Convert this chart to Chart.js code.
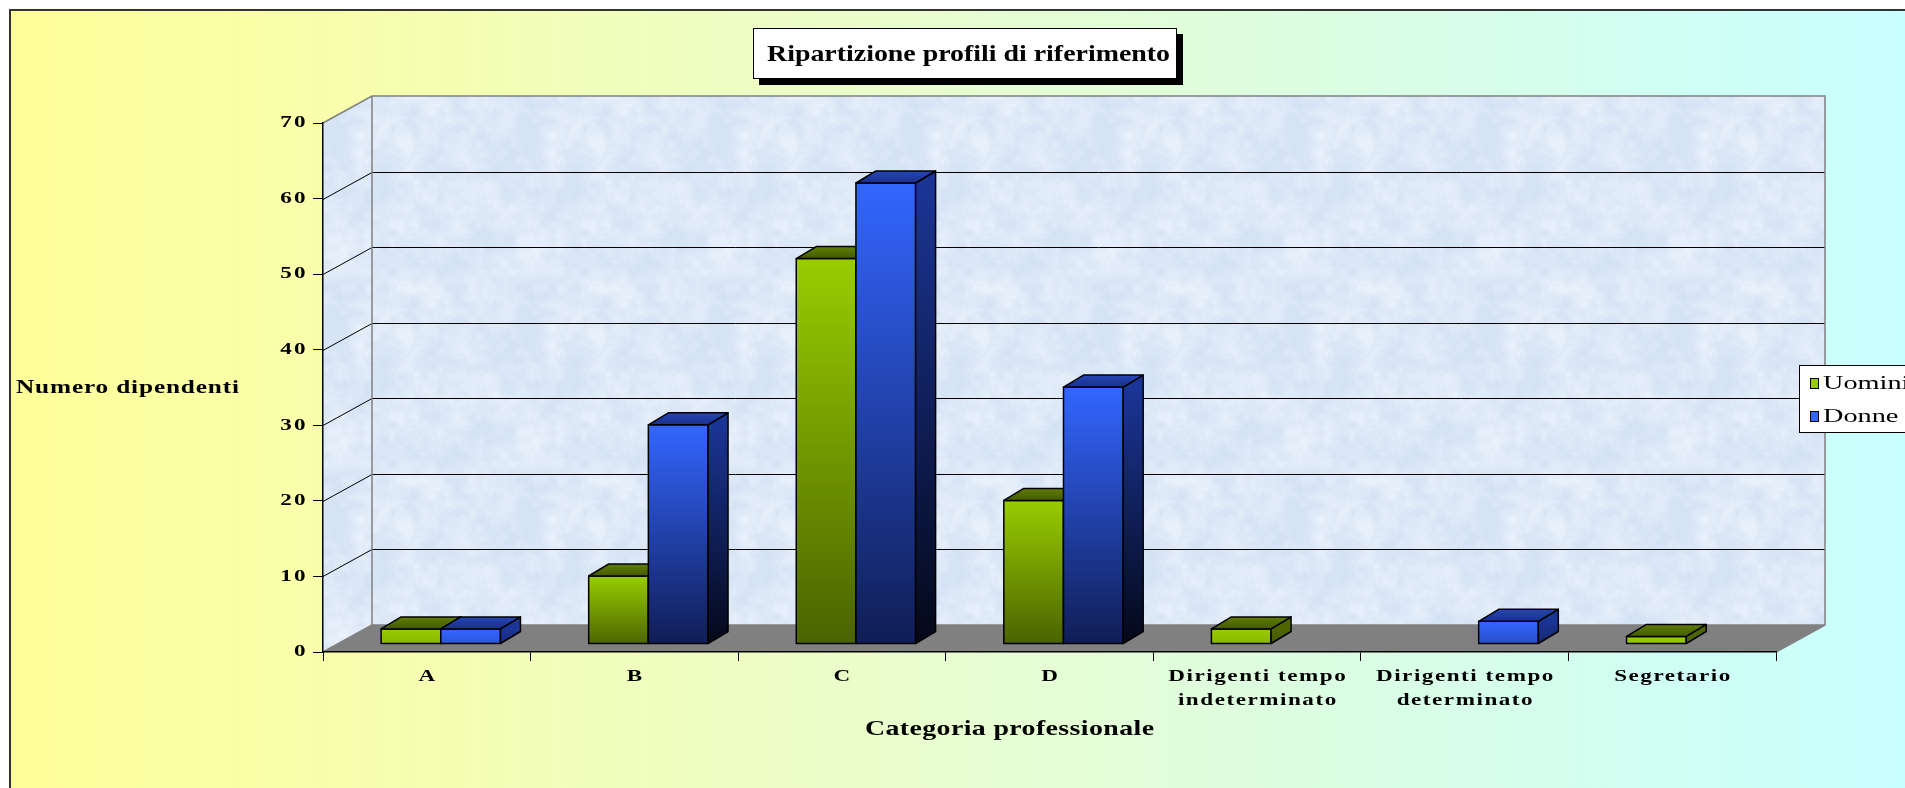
<!DOCTYPE html>
<html>
<head>
<meta charset="utf-8">
<script src="https://cdn.jsdelivr.net/npm/chart.js@4.4.1/dist/chart.umd.min.js"></script>
<style>
  html, body { margin: 0; padding: 0; background: #ffffff; overflow: hidden; }
  #wrap { width: 1905px; height: 788px; }
</style>
</head>
<body>
<div id="wrap"><canvas id="profili" width="1905" height="788"></canvas></div>
<script>
// Dipendenti per categoria professionale
const categorie = ['A', 'B', 'C', 'D', ['Dirigenti tempo', 'indeterminato'], ['Dirigenti tempo', 'determinato'], 'Segretario'];
const uomini = [2, 9, 51, 19, 2, 0, 1];
const donne = [2, 29, 61, 34, 0, 3, 0];
const serie = ['Uomini', 'Donne'];
const yMin = 0, yMax = 70, yStep = 10;

const SERIF = "'Liberation Serif', 'Times New Roman', serif";

// profondità della scena 3D
const WALL_DX = 49, WALL_DY = -27;   // pavimento e parete di fondo
const BAR_DX = 14, BAR_DY = -8;      // le barre stanno a metà profondità
const BOX_DX = 20, BOX_DY = -12;     // spessore delle barre

const palette = [
    { front: ['#99cc00', '#4a6300'], top: ['#5f7f00', '#435a00'], side: ['#4d6600', '#1f2a00'], key: '#99cc00' },
    { front: ['#3366ff', '#101d55'], top: ['#2446b8', '#1a3088'], side: ['#1b3596', '#040818'], key: '#3366ff' }
];

// testo allargato in orizzontale (con eventuale larghezza fissa)
function scritta(ctx, text, x, y, o) {
    const sp = o.spacing || 0;
    ctx.save();
    ctx.font = o.font;
    ctx.letterSpacing = '0px';
    const w = ctx.measureText(text).width + sp * (text.length - 1);
    const sx = o.width ? o.width / w : (o.sx || 1);
    let x0 = x;
    if (o.align === 'right') x0 = x - w * sx;
    else if (o.align === 'center') x0 = x - w * sx / 2;
    ctx.letterSpacing = sp + 'px';
    ctx.textAlign = 'left';
    ctx.textBaseline = o.baseline || 'alphabetic';
    ctx.fillStyle = o.color || '#000000';
    ctx.translate(x0, y);
    ctx.scale(sx, 1);
    ctx.fillText(text, 0, 0);
    ctx.restore();
}

// trama chiara e screziata delle pareti
function wallPattern(ctx) {
    const size = 192;
    const c = document.createElement('canvas');
    c.width = c.height = size;
    const g = c.getContext('2d');
    const img = g.createImageData(size, size);
    const hash = (ix, iy) => {
        let h = Math.imul(ix, 374761393) ^ Math.imul(iy, 668265263);
        h = Math.imul(h ^ (h >>> 13), 1274126177);
        h ^= h >>> 16;
        return (h & 0xffff) / 0xffff;
    };
    const noise = (x, y, cell) => {
        const n = size / cell;
        const gx = x / cell, gy = y / cell;
        const ix = Math.floor(gx), iy = Math.floor(gy);
        let fx = gx - ix, fy = gy - iy;
        fx = fx * fx * (3 - 2 * fx);
        fy = fy * fy * (3 - 2 * fy);
        const a = hash(ix % n, iy % n), b = hash((ix + 1) % n, iy % n);
        const c2 = hash(ix % n, (iy + 1) % n), d = hash((ix + 1) % n, (iy + 1) % n);
        return (a * (1 - fx) + b * fx) * (1 - fy) + (c2 * (1 - fx) + d * fx) * fy;
    };
    const lo = [213, 227, 245], hi = [238, 244, 252];
    for (let y = 0; y < size; y++) {
        for (let x = 0; x < size; x++) {
            let v = 0.45 * noise(x, y, 24) + 0.35 * noise(x, y, 8) + 0.2 * noise(x, y, 3);
            v = Math.max(0, Math.min(1, (v - 0.25) * 1.4));
            const i = (y * size + x) * 4;
            img.data[i] = lo[0] + (hi[0] - lo[0]) * v;
            img.data[i + 1] = lo[1] + (hi[1] - lo[1]) * v;
            img.data[i + 2] = lo[2] + (hi[2] - lo[2]) * v;
            img.data[i + 3] = 255;
        }
    }
    g.putImageData(img, 0, 0);
    return ctx.createPattern(c, 'repeat');
}

function poly(ctx, pts) {
    ctx.beginPath();
    ctx.moveTo(pts[0][0], pts[0][1]);
    for (let i = 1; i < pts.length; i++) ctx.lineTo(pts[i][0], pts[i][1]);
    ctx.closePath();
}

const scena3d = {
    id: 'scena3d',
    beforeDraw(chart) {
        const ctx = chart.ctx;
        const { left, right, top, bottom } = chart.chartArea;
        const W = chart.width, H = chart.height;
        ctx.save();

        // sfondo giallo -> azzurro con bordo
        ctx.fillStyle = '#ffffff';
        ctx.fillRect(0, 0, W, H);
        const bg = ctx.createLinearGradient(11, 0, W, 0);
        bg.addColorStop(0, '#ffff99');
        bg.addColorStop(0.5, '#e8fdd0');
        bg.addColorStop(1, '#c8ffff');
        ctx.fillStyle = bg;
        ctx.fillRect(11, 11, W - 11, H - 11);
        ctx.fillStyle = '#333333';
        ctx.fillRect(9, 9, 2, H - 9);
        ctx.fillRect(9, 9, W - 9, 2);

        const pat = wallPattern(ctx);
        // parete laterale
        poly(ctx, [[left, top], [left + WALL_DX, top + WALL_DY], [left + WALL_DX, bottom + WALL_DY], [left, bottom]]);
        ctx.fillStyle = pat;
        ctx.fill();
        // parete di fondo
        ctx.fillRect(left + WALL_DX, top + WALL_DY, right - left, bottom - top);
        // pavimento
        poly(ctx, [[left, bottom], [right, bottom], [right + WALL_DX, bottom + WALL_DY], [left + WALL_DX, bottom + WALL_DY]]);
        ctx.fillStyle = '#808080';
        ctx.fill();

        // griglia sulle pareti
        const ys = chart.scales.y;
        ctx.lineWidth = 1;
        ctx.strokeStyle = '#000000';
        ys.ticks.forEach(t => {
            if (t.value === yMin || t.value === yMax) return;
            const py = Math.round(ys.getPixelForValue(t.value)) + 0.5;
            ctx.beginPath();
            ctx.moveTo(left, py);
            ctx.lineTo(left + WALL_DX, py + WALL_DY);
            ctx.lineTo(right + WALL_DX, py + WALL_DY);
            ctx.stroke();
        });

        // bordi delle pareti
        ctx.strokeStyle = '#808080';
        ctx.lineWidth = 1.5;
        ctx.beginPath();
        ctx.moveTo(left, top);
        ctx.lineTo(left + WALL_DX, top + WALL_DY);
        ctx.lineTo(right + WALL_DX, top + WALL_DY);
        ctx.lineTo(right + WALL_DX, bottom + WALL_DY);
        ctx.lineTo(right, bottom);
        ctx.moveTo(left + WALL_DX, top + WALL_DY);
        ctx.lineTo(left + WALL_DX, bottom + WALL_DY);
        ctx.lineTo(right + WALL_DX, bottom + WALL_DY);
        ctx.moveTo(left, bottom);
        ctx.lineTo(left + WALL_DX, bottom + WALL_DY);
        ctx.stroke();
        ctx.restore();
    },
    beforeDatasetsDraw(chart) {
        const ctx = chart.ctx;
        ctx.save();
        ctx.lineWidth = 1.5;
        ctx.strokeStyle = '#000000';
        ctx.lineJoin = 'round';
        const n = chart.data.labels.length;
        for (let j = 0; j < n; j++) {
            chart.data.datasets.forEach((ds, i) => {
                if (!ds.data[j]) return;
                const el = chart.getDatasetMeta(i).data[j];
                const p = el.getProps(['x', 'y', 'base', 'width'], true);
                const col = palette[i];
                const x0 = p.x - p.width / 2 + BAR_DX, x1 = p.x + p.width / 2 + BAR_DX;
                const y0 = p.y + BAR_DY, y1 = p.base + BAR_DY;
                const h = y1 - y0;

                // faccia frontale
                const gf = ctx.createLinearGradient(0, y0, 0, y0 + Math.max(h, 70));
                gf.addColorStop(0, col.front[0]);
                gf.addColorStop(1, col.front[1]);
                ctx.fillStyle = gf;
                ctx.fillRect(x0, y0, x1 - x0, h);
                ctx.strokeRect(x0, y0, x1 - x0, h);

                // fianco
                poly(ctx, [[x1, y0], [x1 + BOX_DX, y0 + BOX_DY], [x1 + BOX_DX, y1 + BOX_DY], [x1, y1]]);
                const gs = ctx.createLinearGradient(0, y0, 0, y0 + Math.max(h, 70));
                gs.addColorStop(0, col.side[0]);
                gs.addColorStop(1, col.side[1]);
                ctx.fillStyle = gs;
                ctx.fill();
                ctx.stroke();

                // tetto
                poly(ctx, [[x0, y0], [x0 + BOX_DX, y0 + BOX_DY], [x1 + BOX_DX, y0 + BOX_DY], [x1, y0]]);
                const gt = ctx.createLinearGradient(0, y0 + BOX_DY, 0, y0);
                gt.addColorStop(0, col.top[0]);
                gt.addColorStop(1, col.top[1]);
                ctx.fillStyle = gt;
                ctx.fill();
                ctx.stroke();
            });
        }
        ctx.restore();
        return false;
    },
    afterDraw(chart) {
        const ctx = chart.ctx;
        const xs = chart.scales.x, ys = chart.scales.y;
        const tickFont = 'bold 16.5px ' + SERIF;

        // etichette dell'asse y
        ys.ticks.forEach((t, i) => {
            scritta(ctx, String(t.label), ys.right - 17.5, ys.getPixelForTick(i),
                { font: tickFont, sx: 1.4, spacing: 1.5, align: 'right', baseline: 'middle' });
        });
        // etichette delle categorie
        xs.ticks.forEach((t, i) => {
            const righe = Array.isArray(t.label) ? t.label : [t.label];
            righe.forEach((r, k) => {
                scritta(ctx, r, xs.getPixelForTick(i), xs.top + 29 + k * 24,
                    { font: tickFont, sx: 1.4, spacing: 1.1, align: 'center' });
            });
        });

        // titolo con ombra
        ctx.save();
        ctx.fillStyle = '#000000';
        ctx.fillRect(759, 34, 424, 51);
        ctx.fillStyle = '#ffffff';
        ctx.fillRect(753, 28, 424, 51);
        ctx.strokeStyle = '#000000';
        ctx.lineWidth = 1;
        ctx.strokeRect(753.5, 28.5, 423, 50);
        ctx.restore();
        scritta(ctx, 'Ripartizione profili di riferimento', 767, 61,
            { font: 'bold 24px ' + SERIF, width: 403 });

        // titoli degli assi
        scritta(ctx, 'Numero dipendenti', 16, 393, { font: 'bold 18px ' + SERIF, width: 223, spacing: 0.6 });
        scritta(ctx, 'Categoria professionale', 865, 735, { font: 'bold 21.5px ' + SERIF, width: 289, spacing: 0.3 });

        // legenda
        ctx.save();
        ctx.fillStyle = '#ffffff';
        ctx.fillRect(1799, 365, 200, 68);
        ctx.strokeStyle = '#000000';
        ctx.lineWidth = 1;
        ctx.strokeRect(1799.5, 365.5, 200, 67);
        chart.data.datasets.forEach((ds, i) => {
            const my = 378 + i * 33;
            ctx.fillStyle = palette[i].key;
            ctx.fillRect(1810, my, 8, 10);
            ctx.strokeRect(1810.5, my + 0.5, 8, 10);
            scritta(ctx, ds.label, 1823, my + 10.5, { font: '19.5px ' + SERIF, sx: 1.45 });
        });
        ctx.restore();
    }
};

new Chart(document.getElementById('profili'), {
    type: 'bar',
    data: {
        labels: categorie,
        datasets: [
            { label: serie[0], data: uomini },
            { label: serie[1], data: donne }
        ]
    },
    options: {
        responsive: false,
        animation: false,
        devicePixelRatio: 1,
        categoryPercentage: 0.575,
        barPercentage: 1.0,
        layout: { padding: { left: 253, right: 129, top: 123, bottom: 76 } },
        plugins: {
            legend: { display: false },
            tooltip: { enabled: false },
            title: { display: false }
        },
        scales: {
            x: {
                afterFit: (s) => { s.height = 60; },
                grid: { display: true, drawOnChartArea: false, drawTicks: true, tickLength: 9, color: '#000000', offset: true },
                border: { display: true, color: '#000000', width: 1.5 },
                ticks: { display: false, autoSkip: false, maxRotation: 0 }
            },
            y: {
                min: yMin,
                max: yMax,
                afterFit: (s) => { s.width = 70; },
                grid: { display: true, drawOnChartArea: false, drawTicks: true, tickLength: 10, color: '#000000' },
                border: { display: true, color: '#000000', width: 1.5 },
                ticks: { display: false, stepSize: yStep }
            }
        }
    },
    plugins: [scena3d]
});
</script>
</body>
</html>
